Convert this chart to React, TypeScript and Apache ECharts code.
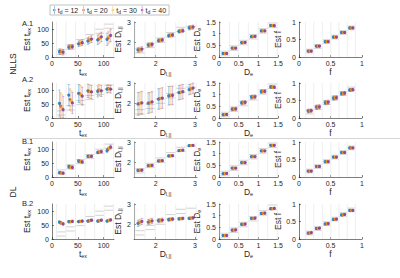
import React, { useEffect, useRef } from 'react';
import * as echarts from 'echarts';

const FONT = 'Liberation Sans, Arial, sans-serif';
const tdLabels = ['12', '20', '30', '40'];
const tdColors = ['#0072BD', '#D95319', '#EDB120', '#7E2F8E'];
const rowLabels = ['A.1', 'A.2', 'B.1', 'B.2'];
const methodLabels = ['NLLS', 'DL'];

// true (simulated) parameter values per group
const texTrue = [18, 36, 55, 73, 92, 110];
const dparTrue = [1.6, 1.86, 2.12, 2.38, 2.64, 2.9];
const deTrue = [0.15, 0.38, 0.62, 0.87, 1.12, 1.36];
const fTrue = [0.17, 0.3, 0.44, 0.57, 0.7, 0.83];

// tick labels
const texTicks = [0, 50, 100];
const dparTicks = [2, 3];
const deTicks = [0, 0.5, 1, 1.5];
const fTicks = [0, 0.5, 1];

// estimated means: rows = td 12, 20, 30, 40 ; cols = groups
const A1_tex = [
  [19, 35, 47, 57, 61, 63],
  [19, 36, 49, 60, 65, 68],
  [18, 36, 50, 62, 69, 73],
  [17, 37, 51, 64, 72, 77],
];
const A1_texErr = [10, 8, 10, 12, 17, 22];
const A2_tex = [
  [52, 82, 88, 97, 95, 103],
  [42, 66, 86, 95, 100, 105],
  [36, 60, 83, 94, 98, 104],
  [30, 54, 78, 93, 97, 103],
];
const A2_texErr = [48, 38, 32, 24, 20, 14];
const B1_tex = [
  [16, 37, 57, 74, 88, 94],
  [15, 36, 56, 74, 89, 100],
  [14, 35, 55, 74, 90, 104],
  [14, 34, 54, 74, 91, 107],
];
const B1_texErr = [4, 6, 5, 4, 5, 7];
const B2_tex = [
  [60, 62, 62, 64, 64, 64],
  [58, 62, 63, 65, 65, 66],
  [56, 62, 63, 66, 66, 67],
  [54, 63, 64, 67, 67, 68],
];
const B2_texErr = [5, 4, 4, 4, 4, 4];

const A1_dpar = [
  [1.64, 1.88, 2.1, 2.34, 2.55, 2.71],
  [1.65, 1.89, 2.11, 2.35, 2.56, 2.73],
  [1.66, 1.9, 2.12, 2.36, 2.57, 2.74],
  [1.68, 1.91, 2.13, 2.37, 2.58, 2.75],
];
const A1_dparErr = [0.12, 0.1, 0.08, 0.08, 0.09, 0.1];
const A2_dpar = [
  [1.98, 2.02, 2.22, 2.38, 2.53, 2.68],
  [2.0, 2.04, 2.24, 2.39, 2.55, 2.7],
  [2.02, 2.06, 2.25, 2.4, 2.56, 2.72],
  [2.04, 2.08, 2.27, 2.4, 2.58, 2.75],
];
const A2_dparErr = [0.55, 0.5, 0.5, 0.45, 0.35, 0.25];
const B1_dpar = [
  [1.62, 1.85, 2.08, 2.33, 2.58, 2.82],
  [1.62, 1.85, 2.08, 2.33, 2.59, 2.83],
  [1.63, 1.86, 2.09, 2.34, 2.59, 2.83],
  [1.63, 1.86, 2.09, 2.34, 2.6, 2.84],
];
const B1_dparErr = [0.05, 0.04, 0.04, 0.04, 0.04, 0.04];
const B2_dpar = [
  [2.06, 2.12, 2.19, 2.24, 2.28, 2.3],
  [2.09, 2.14, 2.2, 2.25, 2.29, 2.31],
  [2.12, 2.16, 2.21, 2.26, 2.29, 2.32],
  [2.15, 2.18, 2.22, 2.27, 2.3, 2.33],
];
const B2_dparErr = [0.15, 0.13, 0.1, 0.08, 0.06, 0.06];

const A1_de = [
  [0.15, 0.38, 0.62, 0.87, 1.12, 1.35],
  [0.15, 0.38, 0.62, 0.87, 1.12, 1.35],
  [0.15, 0.38, 0.62, 0.88, 1.12, 1.35],
  [0.15, 0.38, 0.63, 0.88, 1.12, 1.34],
];
const A1_deErr = [0.03, 0.03, 0.03, 0.03, 0.03, 0.04];
const A2_de = [
  [0.14, 0.38, 0.65, 0.89, 1.13, 1.33],
  [0.14, 0.38, 0.66, 0.9, 1.14, 1.33],
  [0.15, 0.38, 0.66, 0.9, 1.14, 1.32],
  [0.15, 0.39, 0.67, 0.91, 1.14, 1.32],
];
const A2_deErr = [0.04, 0.06, 0.08, 0.08, 0.07, 0.06];
const B1_de = [
  [0.14, 0.38, 0.62, 0.87, 1.12, 1.36],
  [0.14, 0.38, 0.62, 0.87, 1.12, 1.36],
  [0.15, 0.38, 0.62, 0.87, 1.12, 1.36],
  [0.15, 0.38, 0.62, 0.87, 1.12, 1.36],
];
const B1_deErr = [0.02, 0.02, 0.02, 0.02, 0.02, 0.02];
const B2_de = [
  [0.15, 0.38, 0.63, 0.88, 1.1, 1.3],
  [0.15, 0.38, 0.63, 0.88, 1.1, 1.3],
  [0.15, 0.38, 0.64, 0.88, 1.11, 1.3],
  [0.15, 0.39, 0.64, 0.89, 1.11, 1.31],
];
const B2_deErr = [0.03, 0.04, 0.04, 0.04, 0.04, 0.05];

const A1_f = [
  [0.17, 0.31, 0.44, 0.57, 0.7, 0.83],
  [0.17, 0.31, 0.44, 0.57, 0.7, 0.83],
  [0.17, 0.31, 0.44, 0.57, 0.7, 0.83],
  [0.17, 0.31, 0.44, 0.57, 0.7, 0.83],
];
const A1_fErr = [0.02, 0.02, 0.02, 0.02, 0.02, 0.02];
const A2_f = [
  [0.2, 0.31, 0.44, 0.57, 0.7, 0.8],
  [0.2, 0.31, 0.44, 0.57, 0.7, 0.8],
  [0.21, 0.32, 0.45, 0.58, 0.7, 0.8],
  [0.21, 0.32, 0.45, 0.58, 0.71, 0.81],
];
const A2_fErr = [0.05, 0.06, 0.06, 0.06, 0.05, 0.04];
const B1_f = [
  [0.17, 0.3, 0.44, 0.57, 0.7, 0.83],
  [0.17, 0.3, 0.44, 0.57, 0.7, 0.83],
  [0.17, 0.3, 0.44, 0.57, 0.7, 0.83],
  [0.17, 0.3, 0.44, 0.57, 0.7, 0.83],
];
const B1_fErr = [0.015, 0.015, 0.015, 0.015, 0.015, 0.015];
const B2_f = [
  [0.17, 0.3, 0.43, 0.56, 0.69, 0.82],
  [0.17, 0.3, 0.43, 0.56, 0.69, 0.82],
  [0.17, 0.3, 0.44, 0.57, 0.7, 0.82],
  [0.18, 0.31, 0.44, 0.57, 0.7, 0.82],
];
const B2_fErr = [0.02, 0.02, 0.02, 0.02, 0.02, 0.02];

const panelMeans = [
  [A1_tex, A1_dpar, A1_de, A1_f],
  [A2_tex, A2_dpar, A2_de, A2_f],
  [B1_tex, B1_dpar, B1_de, B1_f],
  [B2_tex, B2_dpar, B2_de, B2_f],
];
const panelErrs = [
  [A1_texErr, A1_dparErr, A1_deErr, A1_fErr],
  [A2_texErr, A2_dparErr, A2_deErr, A2_fErr],
  [B1_texErr, B1_dparErr, B1_deErr, B1_fErr],
  [B2_texErr, B2_dparErr, B2_deErr, B2_fErr],
];

const params = [
  { truth: texTrue, ticks: texTicks, xMin: 0, xMax: 120, yMin: 0, yMax: 125, sym: 't', sub: 'ex', yGap: 20 },
  { truth: dparTrue, ticks: dparTicks, xMin: 1.45, xMax: 3.05, yMin: 1.3, yMax: 3, sym: 'D', sub: 'l,||', yGap: 11 },
  { truth: deTrue, ticks: deTicks, xMin: 0, xMax: 1.5, yMin: 0, yMax: 1.5, sym: 'D', sub: 'e', yGap: 16 },
  { truth: fTrue, ticks: fTicks, xMin: 0, xMax: 1, yMin: 0, yMax: 1, sym: 'f', sub: '', yGap: 14 },
];

const gridLefts = [52, 134, 219, 299];
const gridWidths = [62, 63, 59, 63];
const gridTops = [22, 83, 142, 204];
const gridHeight = 35;
const AX = '#262626';

const richName = {
  a: { fontSize: 8.5, color: AX, fontFamily: FONT },
  b: { fontSize: 5.5, color: AX, fontFamily: FONT, padding: [4, 0, 0, 0] },
};

function nameText(prefix: string, sym: string, sub: string) {
  return sub ? `{a|${prefix}${sym}}{b|${sub}}` : `{a|${prefix}${sym}}`;
}

export default function App() {
  const ref = useRef<HTMLDivElement>(null);
  useEffect(() => {
    if (!ref.current) return;
    const chart = echarts.init(ref.current, undefined, { renderer: 'svg' });
    const grids: any[] = [];
    const xAxes: any[] = [];
    const yAxes: any[] = [];
    const series: any[] = [];
    for (let r = 0; r < 4; r++) {
      for (let c = 0; c < 4; c++) {
        const g = r * 4 + c;
        const p = params[c];
        grids.push({ left: gridLefts[c], top: gridTops[r], width: gridWidths[c], height: gridHeight });
        const axBase = {
          axisLine: { show: true, lineStyle: { color: AX, width: 0.6 } },
          axisTick: { show: true, inside: true, length: 2, customValues: p.ticks, lineStyle: { color: AX, width: 0.6 } },
          axisLabel: { customValues: p.ticks, fontSize: 7, color: AX, fontFamily: FONT, margin: 3 },
          splitLine: { show: false },
          nameTextStyle: { rich: richName },
        };
        xAxes.push({
          ...axBase, type: 'value', gridIndex: g, min: p.xMin, max: p.xMax,
          name: nameText('', p.sym, p.sub), nameLocation: 'middle', nameGap: 9,
        });
        yAxes.push({
          ...axBase, type: 'value', gridIndex: g, min: p.yMin, max: p.yMax,
          name: nameText('Est ', p.sym, p.sub), nameLocation: 'middle', nameGap: p.yGap,
        });
        const t = p.truth;
        const s = (t[5] - t[0]) / 5;
        const bounds = [t[0] - s / 2, ...t.slice(0, 5).map((v, i) => (v + t[i + 1]) / 2), t[5] + s / 2];
        series.push({
          type: 'custom', xAxisIndex: g, yAxisIndex: g, z: 1, silent: true,
          data: bounds.map((b) => [b, p.yMin]),
          renderItem: (prm: any, api: any) => {
            const x = api.coord([api.value(0), api.value(1)])[0];
            const cs = prm.coordSys;
            return { type: 'line', shape: { x1: x, y1: cs.y, x2: x, y2: cs.y + cs.height }, style: { stroke: '#e2e2e2', lineWidth: 0.6 } };
          },
        });
        series.push({
          type: 'custom', xAxisIndex: g, yAxisIndex: g, z: 2, silent: true,
          data: t.map((v) => [v, v - 0.4 * s, v + 0.4 * s, 0.5 * s]),
          renderItem: (prm: any, api: any) => {
            const hw = api.value(3);
            const cs = prm.coordSys;
            const p1 = api.coord([api.value(0) - hw, api.value(2)]);
            const p2 = api.coord([api.value(0) + hw, api.value(1)]);
            const st = { stroke: '#c6c6c6', lineWidth: 0.8 };
            const kids: any[] = [];
            if (p1[1] >= cs.y) kids.push({ type: 'line', shape: { x1: p1[0] + 0.5, y1: p1[1], x2: p2[0] - 0.5, y2: p1[1] }, style: st });
            if (p2[1] <= cs.y + cs.height) kids.push({ type: 'line', shape: { x1: p1[0] + 0.5, y1: p2[1], x2: p2[0] - 0.5, y2: p2[1] }, style: st });
            return { type: 'group', children: kids };
          },
        });
        const means = panelMeans[r][c];
        const errs = panelErrs[r][c];
        for (let k = 0; k < 4; k++) {
          const xs = t.map((v) => v + (k - 1.5) * s * 0.13);
          series.push({
            type: 'custom', xAxisIndex: g, yAxisIndex: g, z: 3, silent: true,
            data: means[k].map((m, i) => [xs[i], Math.max(p.yMin, m - errs[i]), Math.min(p.yMax, m + errs[i])]),
            renderItem: (_prm: any, api: any) => {
              const top = api.coord([api.value(0), api.value(2)]);
              const bot = api.coord([api.value(0), api.value(1)]);
              const st = { stroke: tdColors[k], lineWidth: 0.7, opacity: 0.45 };
              return {
                type: 'group',
                children: [
                  { type: 'line', shape: { x1: top[0], y1: top[1], x2: bot[0], y2: bot[1] }, style: st },
                  { type: 'line', shape: { x1: top[0] - 1.2, y1: top[1], x2: top[0] + 1.2, y2: top[1] }, style: st },
                  { type: 'line', shape: { x1: bot[0] - 1.2, y1: bot[1], x2: bot[0] + 1.2, y2: bot[1] }, style: st },
                ],
              };
            },
          });
          series.push({
            type: 'scatter', name: 'td' + tdLabels[k], xAxisIndex: g, yAxisIndex: g, z: 4,
            symbol: 'circle', symbolSize: 3.2, itemStyle: { color: tdColors[k] },
            data: means[k].map((m, i) => [xs[i], m]),
          });
        }
      }
    }
    const graphics: any[] = [
      { type: 'line', shape: { x1: 22, y1: 138.5, x2: 400, y2: 138.5 }, style: { stroke: '#d6d6d6', lineWidth: 1 } },
    ];
    const rowTops = [19, 75, 137, 199];
    rowLabels.forEach((lab, i) => {
      graphics.push({ type: 'text', x: 22, y: rowTops[i], style: { text: lab, fontSize: 7.5, fill: AX, fontFamily: FONT } });
    });
    const methodY = [64, 192];
    methodLabels.forEach((lab, i) => {
      graphics.push({ type: 'text', x: 13, y: methodY[i], rotation: Math.PI / 2, style: { text: lab, fontSize: 8.5, fill: AX, fontFamily: FONT, align: 'center', verticalAlign: 'middle' } });
    });
    chart.setOption({
      animation: false,
      backgroundColor: '#ffffff',
      grid: grids,
      xAxis: xAxes,
      yAxis: yAxes,
      series,
      graphic: graphics,
      legend: {
        left: 50, top: 5, orient: 'horizontal', selectedMode: false,
        data: tdLabels.map((l) => 'td' + l),
        icon: 'path://M4.7,0H5.3V10H4.7Z M3.4,5A1.6,1.6,0,1,0,6.6,5A1.6,1.6,0,1,0,3.4,5Z',
        itemWidth: 3, itemHeight: 8, itemGap: 4,
        padding: [1, 3, 1, 3],
        borderColor: '#a8a8a8', borderWidth: 0.7,
        formatter: (name: string) => `{n|t}{s|d}{n| = ${name.slice(2)}}`,
        textStyle: {
          fontSize: 7, color: AX, fontFamily: FONT, padding: [0, 0, 0, -3],
          rich: {
            n: { fontSize: 7, color: AX, fontFamily: FONT },
            s: { fontSize: 5, color: AX, fontFamily: FONT, padding: [3, 0, 0, 0] },
          },
        },
      },
    });
    return () => chart.dispose();
  }, []);
  return <div ref={ref} style={{ position: 'fixed', left: 0, top: 0, width: 400, height: 278, background: '#fff' }} />;
}
